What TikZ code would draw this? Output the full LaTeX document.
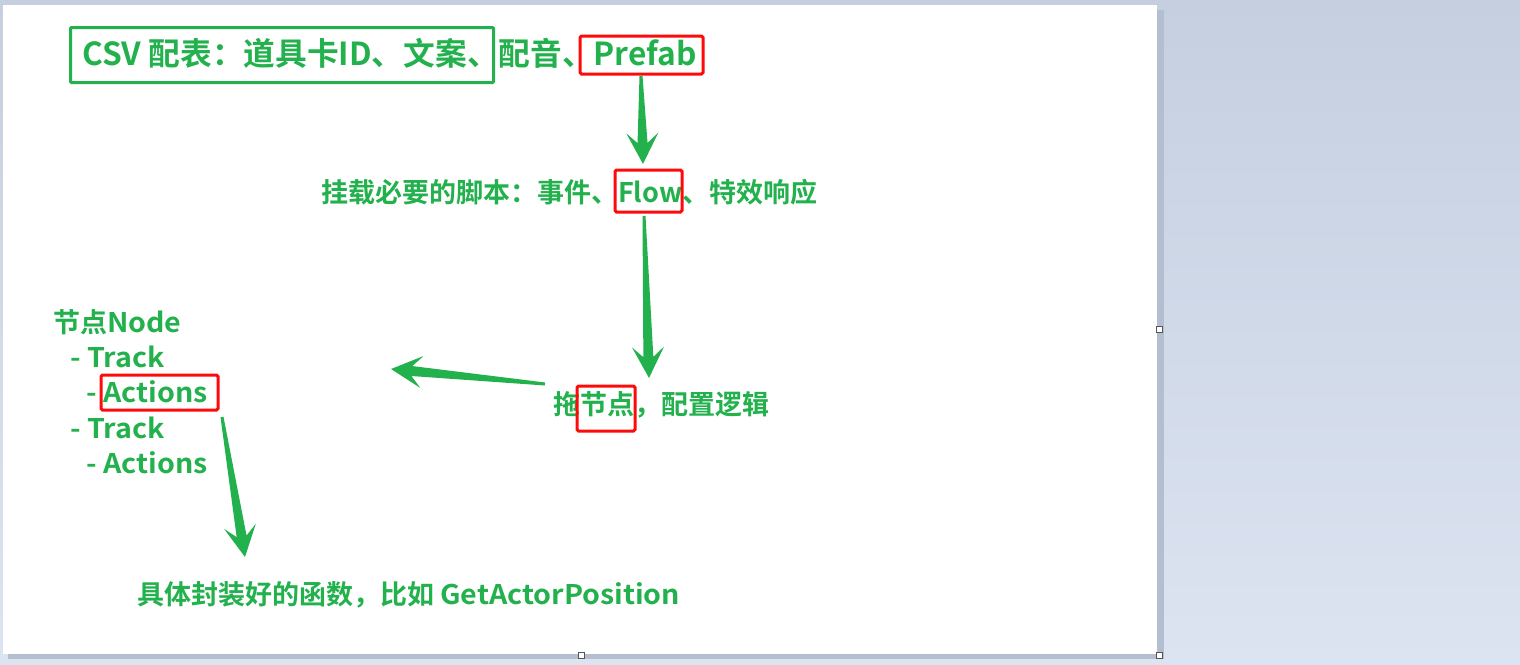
\documentclass[tikz,border=0pt]{standalone}
\usepackage{fontspec}
\setmainfont{Noto Sans CJK SC Bold}
\newfontfamily\latw{Noto Sans CJK SC Bold}[FakeStretch=1.06]
\usetikzlibrary{calc}
\definecolor{gtext}{HTML}{22B14C}
\definecolor{rbox}{HTML}{FF0A0A}
\definecolor{bgtop}{HTML}{C5CFE0}
\definecolor{bgbot}{HTML}{DCE4F1}
\definecolor{shadowc}{HTML}{B3BED0}
\definecolor{handlec}{HTML}{555555}
\tikzset{
  lbl/.style={inner sep=0pt, anchor=base west, text=gtext, font=\fontsize{27}{32}\selectfont},
  bigl/.style={lbl, font=\fontsize{31.7}{36}\selectfont},
  redframe/.style={draw=rbox, line width=3pt, rounded corners=1.5pt},
  greenframe/.style={draw=gtext, line width=3pt, rounded corners=1pt},
  handle/.style={draw=handlec, fill=white, line width=0.8pt},
  arrowfill/.style={fill=gtext}
}
\newcommand\fatarrow[2]{%
  \fill[arrowfill] ($(#1)!1.5pt!90:(#2)$) -- ($(#2)!21pt!(#1)!5pt!-90:(#1)$)
    -- ($(#2)!31pt!(#1)!16pt!-90:(#1)$) -- (#2)
    -- ($(#2)!31pt!(#1)!16pt!90:(#1)$) -- ($(#2)!21pt!(#1)!5pt!90:(#1)$)
    -- ($(#1)!1.5pt!-90:(#2)$) -- cycle;}
\begin{document}
\begin{tikzpicture}[x=1pt,y=-1pt]
\useasboundingbox (0,0) rectangle (1520,664);
% background
\shade[top color=bgtop, bottom color=bgbot] (0,0) rectangle (1520,664);
\fill[shadowc] (1157,10) rectangle (1164,659);
\fill[shadowc] (8,654) rectangle (1164,659);
\fill[white] (3,5) rectangle (1157,654);
% texts
\node[bigl] (t1) at (82,65) {CSV 配表：道具卡ID、文案、配音、Prefab};
\node[lbl] (t2) at (321,202) {挂载必要的脚本：事件、Flow、特效响应};
\node[lbl] (t3) at (553,414) {拖节点，配置逻辑};
\node[lbl] (n0) at (53,332) {节点{\latw Node}};
\node[lbl] (n1) at (70,367) {\latw - Track};
\node[lbl] (n2) at (86,402) {\latw - Actions};
\node[lbl] (n3) at (70,438) {\latw - Track};
\node[lbl] (n4) at (86,473) {\latw - Actions};
\node[lbl] (t5) at (137,604) {具体封装好的函数，比如 {\latw GetActorPosition}};
% frames
\draw[greenframe] (70.5,27.5) rectangle (493.5,82.5);
\draw[redframe] (580,36) rectangle (703,74);
\draw[redframe] (615,170) rectangle (682,212);
\draw[redframe] (577,386) rectangle (635,431);
\draw[redframe] (101,375) rectangle (218,410);
% arrows
\coordinate (a1s) at (641,76);  \coordinate (a1e) at (643,164);
\coordinate (a2s) at (644,216); \coordinate (a2e) at (649,378);
\coordinate (a3s) at (545,384); \coordinate (a3e) at (391,369);
\coordinate (a4s) at (222,417); \coordinate (a4e) at (245,557);
\fatarrow{a1s}{a1e}
\fatarrow{a2s}{a2e}
\fatarrow{a3s}{a3e}
\fatarrow{a4s}{a4e}
% handles
\draw[handle] (1156,326) rectangle (1162,332);
\draw[handle] (578,652) rectangle (584,658);
\draw[handle] (1156,652) rectangle (1162,658);
\end{tikzpicture}
\end{document}
